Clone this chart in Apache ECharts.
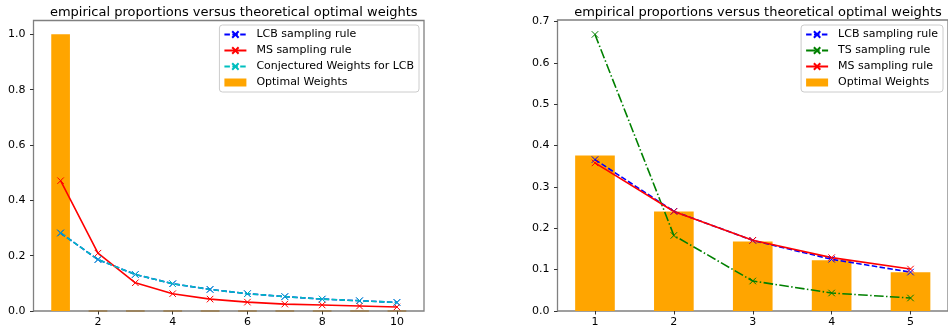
<!DOCTYPE html>
<html>
<head>
<meta charset="utf-8">
<script src="https://cdn.jsdelivr.net/npm/echarts@6/dist/echarts.min.js"></script>
<style>html,body{margin:0;padding:0;background:#fff}#c{width:948px;height:334px}</style>
</head>
<body>
<div id="c"></div>
<script>
// ---- data (left panel) ----
const leftArms = [1, 2, 3, 4, 5, 6, 7, 8, 9, 10];
const leftLCB = [0.282, 0.186, 0.132, 0.0985, 0.078, 0.0626, 0.052, 0.043, 0.037, 0.031];
const leftMS = [0.471, 0.209, 0.102, 0.0626, 0.043, 0.032, 0.025, 0.0217, 0.018, 0.0145];
const leftConj = [0.282, 0.186, 0.132, 0.0985, 0.078, 0.0626, 0.052, 0.043, 0.037, 0.031];
const leftOpt = [1.0, 0, 0, 0, 0, 0, 0, 0, 0, 0];
const leftXTicks = [2, 4, 6, 8, 10];
const leftYTicks = [0, 0.2, 0.4, 0.6, 0.8, 1.0];

// ---- data (right panel) ----
const rightArms = [1, 2, 3, 4, 5];
const rightLCB = [0.366, 0.241, 0.1707, 0.125, 0.094];
const rightTS = [0.6686, 0.1827, 0.0725, 0.0435, 0.0314];
const rightMS = [0.358, 0.2406, 0.171, 0.129, 0.1014];
const rightOpt = [0.376, 0.2406, 0.168, 0.1224, 0.0934];
const rightXTicks = [1, 2, 3, 4, 5];
const rightYTicks = [0, 0.1, 0.2, 0.3, 0.4, 0.5, 0.6, 0.7];

const titleText = 'empirical proportions versus theoretical optimal weights';
const FONT = 'DejaVu Sans';

const pairs = (xs, ys) => xs.map((x, i) => [x, ys[i]]);
const XSYM = 'path://M0,0L10,10M10,0L0,10';

const G = [
  {left: 33.5, top: 20.5, width: 390.5, height: 290.5, xmin: 0.275, xmax: 10.725, ymax: 1.05},
  {left: 557.5, top: 20, width: 392.5, height: 291, xmin: 0.525, xmax: 5.475, ymax: 0.7035}
];
const barW = g => 0.5 * g.width / (g.xmax - g.xmin);

function lineSeries(name, gi, data, color, dash) {
  return {
    type: 'line', name, xAxisIndex: gi, yAxisIndex: gi, data,
    symbol: XSYM, symbolSize: 6.5, showSymbol: true,
    lineStyle: {color, width: 1.6, type: dash},
    itemStyle: {color, borderColor: color, borderWidth: 1},
    emphasis: {disabled: true}, animation: false, z: 3
  };
}
function barSeries(gi, xs, ys) {
  // zero-height bars render only as a thin edge line on the axis (as in the reference)
  const data = xs.map((x, i) => ys[i] === 0
    ? {value: [x, 0], itemStyle: {borderColor: 'rgba(150,100,20,0.9)', borderWidth: 1.2}}
    : {value: [x, ys[i]]});
  return {
    type: 'bar', name: 'Optimal Weights', xAxisIndex: gi, yAxisIndex: gi, data,
    barWidth: barW(G[gi]),
    itemStyle: {color: '#ffa500', borderWidth: 0},
    emphasis: {disabled: true}, animation: false, z: 2
  };
}

const axisCommon = {
  axisLine: {show: false},
  axisTick: {show: true, length: 3.5, inside: false, lineStyle: {color: '#333', width: 1}},
  splitLine: {show: false},
  axisLabel: {color: '#000', fontFamily: FONT, fontSize: 11}
};

function xAxis(gi, ticks) {
  const g = G[gi];
  return Object.assign({}, axisCommon, {
    type: 'value', gridIndex: gi, min: g.xmin, max: g.xmax,
    axisTick: Object.assign({}, axisCommon.axisTick, {customValues: ticks}),
    axisLabel: Object.assign({}, axisCommon.axisLabel, {customValues: ticks, margin: 6, formatter: v => String(v)})
  });
}
function yAxis(gi, ticks) {
  const g = G[gi];
  return Object.assign({}, axisCommon, {
    type: 'value', gridIndex: gi, min: 0, max: g.ymax,
    axisTick: Object.assign({}, axisCommon.axisTick, {customValues: ticks}),
    axisLabel: Object.assign({}, axisCommon.axisLabel, {customValues: ticks, margin: 8, formatter: v => v.toFixed(1)})
  });
}

const legendCommon = {
  orient: 'vertical', top: 25,
  itemWidth: 22, itemHeight: 8, itemGap: 5,
  padding: [4, 5, 4, 4],
  backgroundColor: '#fff', borderColor: '#ccc', borderWidth: 1, borderRadius: 3,
  textStyle: {color: '#000', fontFamily: FONT, fontSize: 11, padding: [0, 0, 0, 5]},
  selectedMode: false, inactiveColor: '#000'
};

const chart = echarts.init(document.getElementById('c'), null, {renderer: 'canvas'});
chart.setOption({
  animation: false,
  backgroundColor: '#fff',
  title: G.map((g, i) => ({
    text: titleText, left: (i === 0 ? g.left + g.width / 2 : 753), top: 1, textAlign: 'center',
    textStyle: {fontFamily: FONT, fontSize: 13, fontWeight: 'normal', color: '#000'}
  })),
  grid: G.map(g => ({left: g.left, top: g.top, width: g.width, height: g.height,
    show: true, borderColor: '#808080', borderWidth: 1.3, backgroundColor: 'transparent', containLabel: false})),
  xAxis: [xAxis(0, leftXTicks), xAxis(1, rightXTicks)],
  yAxis: [yAxis(0, leftYTicks), yAxis(1, rightYTicks)],
  legend: [
    Object.assign({}, legendCommon, {right: 948 - 419,
      data: [
        {name: 'LCB sampling rule'}, {name: 'MS sampling rule'},
        {name: 'Conjectured Weights for LCB'}, {name: 'Optimal Weights', icon: 'rect', itemStyle: {borderWidth: 0}}
      ]}),
    Object.assign({}, legendCommon, {right: 948 - 943,
      data: [
        {name: 'LCB sampling rule'}, {name: 'TS sampling rule'},
        {name: 'MS sampling rule'}, {name: 'Optimal Weights', icon: 'rect', itemStyle: {borderWidth: 0}}
      ]})
  ],
  series: [
    barSeries(0, leftArms, leftOpt),
    lineSeries('LCB sampling rule', 0, pairs(leftArms, leftLCB), '#0000ff', [5.5, 2.4]),
    lineSeries('MS sampling rule', 0, pairs(leftArms, leftMS), '#ff0000', 'solid'),
    lineSeries('Conjectured Weights for LCB', 0, pairs(leftArms, leftConj), '#00bfbf', [5.5, 2.4]),
    barSeries(1, rightArms, rightOpt),
    lineSeries('LCB sampling rule', 1, pairs(rightArms, rightLCB), '#0000ff', [5.5, 2.4]),
    lineSeries('TS sampling rule', 1, pairs(rightArms, rightTS), '#008000', [9.6, 2.4, 1.5, 2.4]),
    lineSeries('MS sampling rule', 1, pairs(rightArms, rightMS), '#ff0000', 'solid')
  ]
});
</script>
</body>
</html>
